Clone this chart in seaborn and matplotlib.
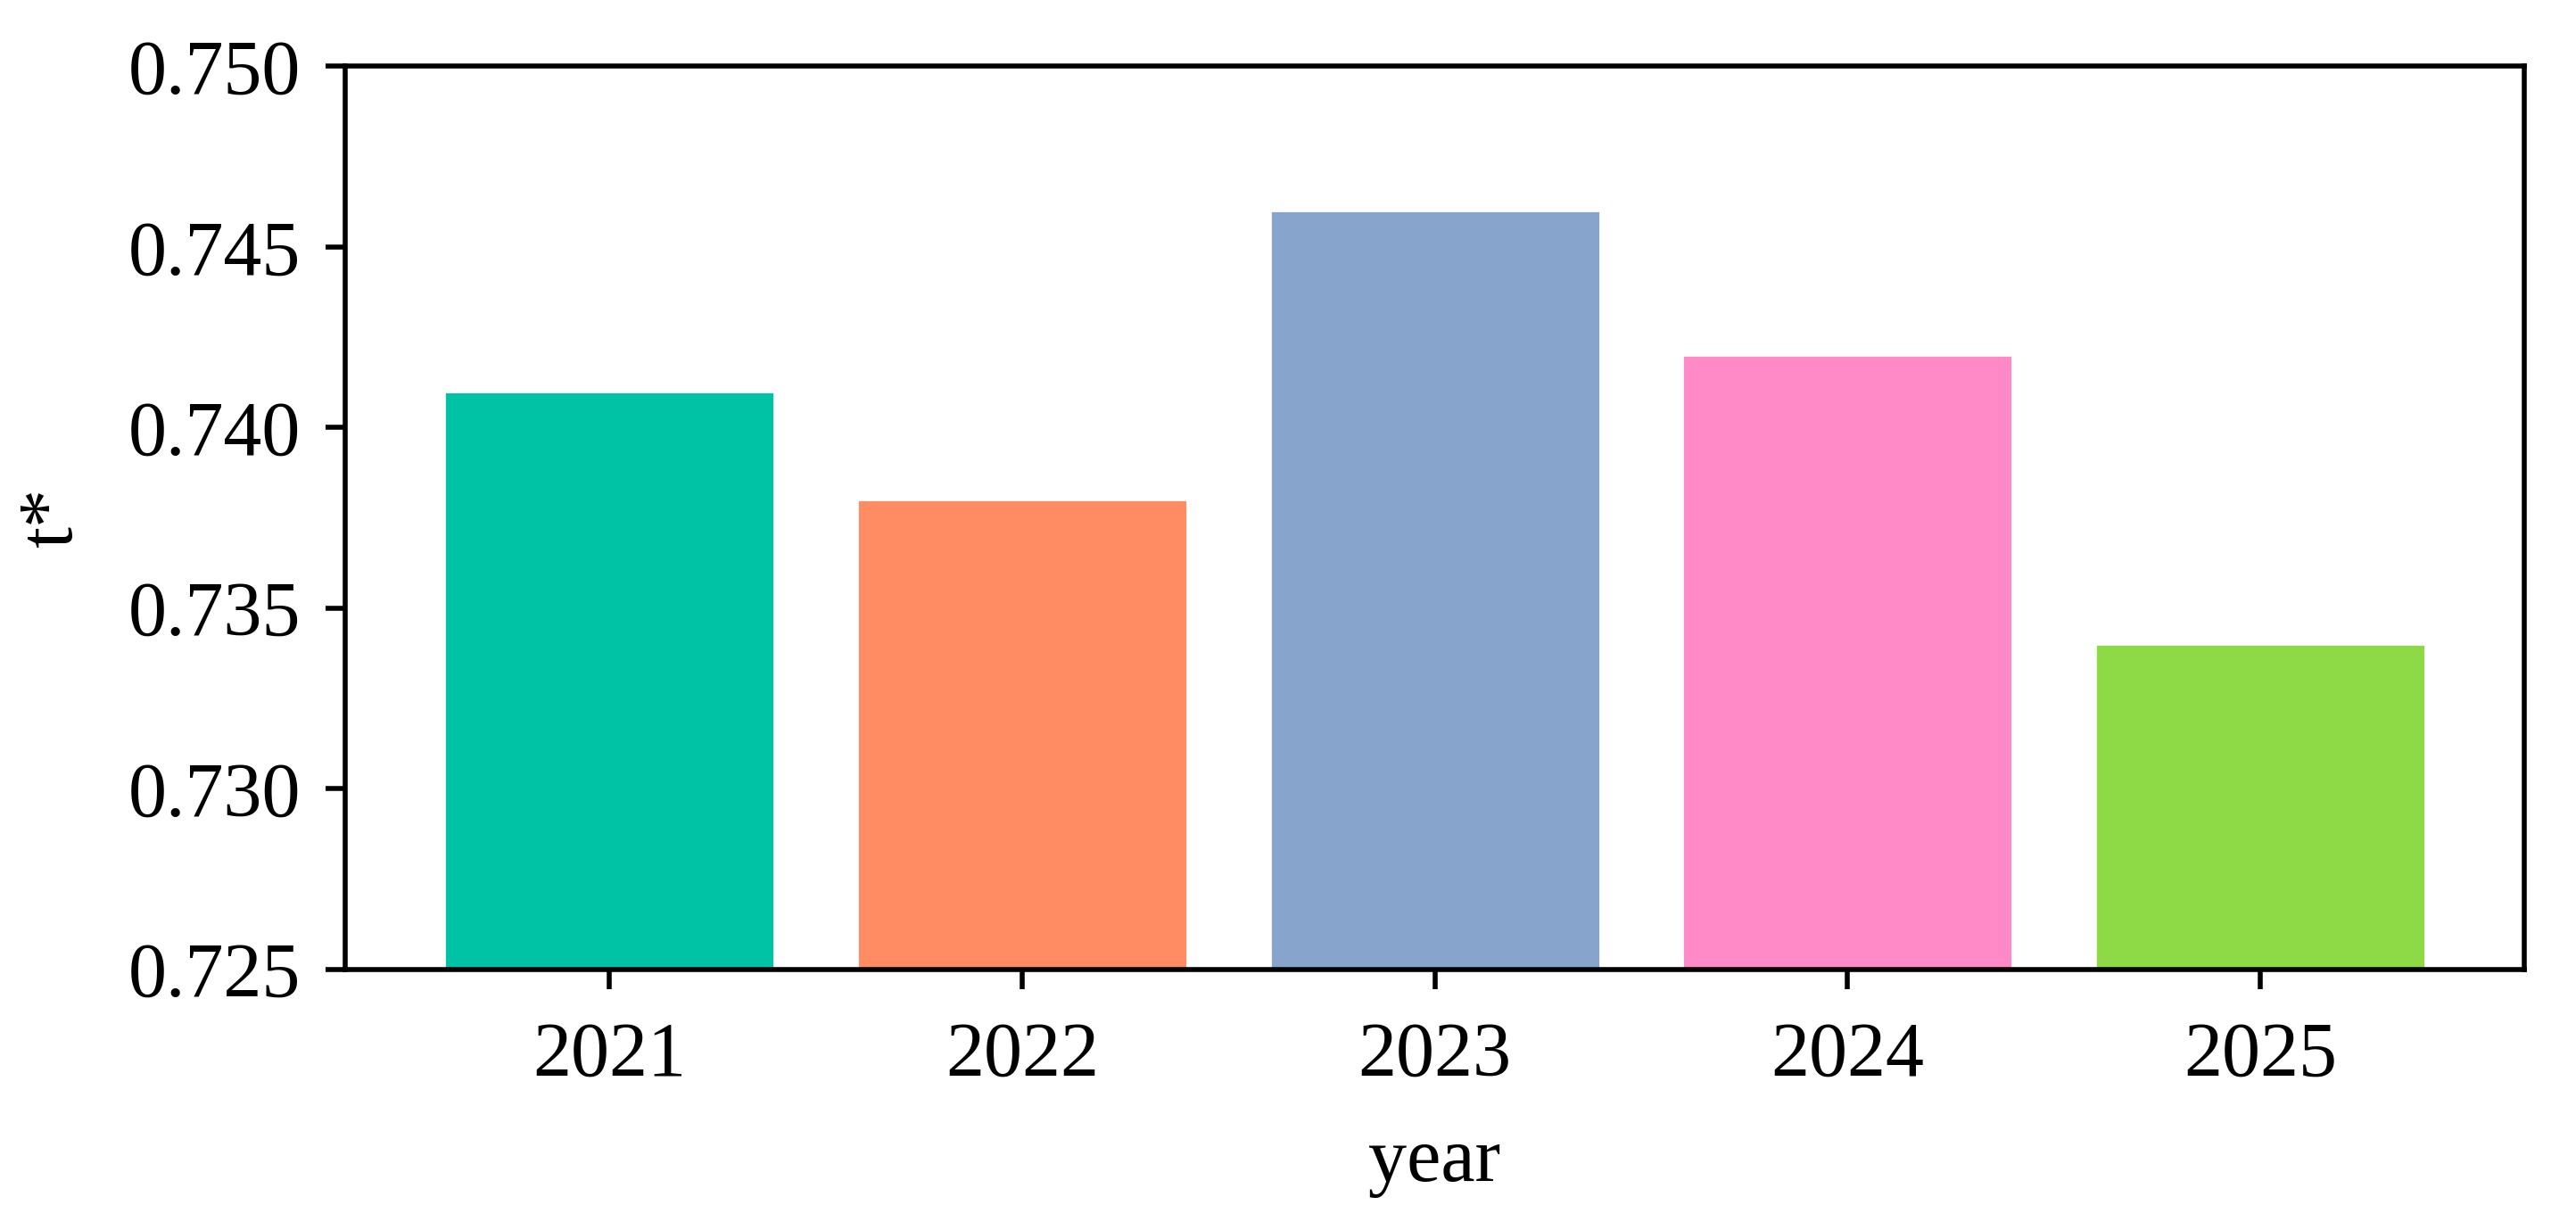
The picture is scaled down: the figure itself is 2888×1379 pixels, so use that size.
import matplotlib
matplotlib.use("Agg")
import matplotlib.pyplot as plt
import seaborn as sns
import pandas as pd

years = ["2021", "2022", "2023", "2024", "2025"]
t_star = [0.741, 0.738, 0.746, 0.742, 0.734]
colors = ["#00C2A5", "#FF8C62", "#87A4CD", "#FF8AC7", "#8ED946"]
y_ticks = [0.725, 0.730, 0.735, 0.740, 0.745, 0.750]

sns.set_theme(style="ticks")
plt.rcParams["font.family"] = ["Liberation Serif", "DejaVu Serif"]

df = pd.DataFrame({"year": years, "t*": t_star})

fig, ax = plt.subplots(figsize=(14.44, 6.895), dpi=200)
fig.subplots_adjust(left=0.134, right=0.980, top=0.946, bottom=0.212)

sns.barplot(data=df, x="year", y="t*", hue="year", palette=colors,
            width=0.8, saturation=1, legend=False, ax=ax)

ax.set_xlim(-0.64, 4.64)
ax.set_ylim(0.725, 0.750)
ax.set_yticks(y_ticks)
ax.set_yticklabels([f"{v:.3f}" for v in y_ticks])

for s in ax.spines.values():
    s.set_linewidth(2.0)
    s.set_color("black")
    s.set_visible(True)

ax.tick_params(axis="both", which="major", labelsize=31, length=8, width=2.0,
               color="black", labelcolor="black")
ax.tick_params(axis="y", pad=10)
ax.tick_params(axis="x", pad=13)
ax.set_xlabel("year", fontsize=31, labelpad=14, color="black")
ax.set_ylabel("t*", fontsize=31, labelpad=16, color="black")

fig.savefig("out.png", dpi=200, facecolor="white")
